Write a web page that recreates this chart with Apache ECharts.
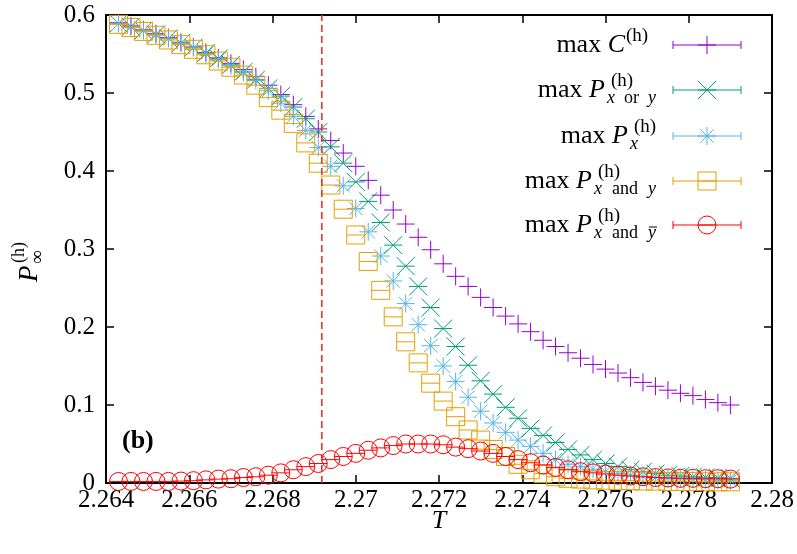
<!DOCTYPE html>
<html>
<head>
<meta charset="utf-8">
<script src="https://cdn.jsdelivr.net/npm/echarts@6/dist/echarts.min.js"></script>
<style>
html,body{margin:0;padding:0;background:#fff;}
#chart{width:797px;height:554px;}
</style>
</head>
<body>
<div id="chart"></div>
<script>
// temperatures T
var temps = [2.2643,2.2646,2.2649,2.2652,2.2655,2.2658,2.2661,2.2664,2.2667,2.2670,
	2.2673,2.2676,2.2679,2.2682,2.2685,2.2688,2.2691,2.2694,2.2697,2.2700,
	2.2703,2.2706,2.2709,2.2712,2.2715,2.2718,2.2721,2.2724,2.2727,2.2730,
	2.2733,2.2736,2.2739,2.2742,2.2745,2.2748,2.2751,2.2754,2.2757,2.2760,
	2.2763,2.2766,2.2769,2.2772,2.2775,2.2778,2.2781,2.2784,2.2787,2.2790];

var maxC = [0.590,0.586,0.581,0.576,0.571,0.565,0.559,0.552,0.545,0.538,
	0.530,0.521,0.510,0.498,0.485,0.470,0.454,0.439,0.423,0.406,
	0.388,0.369,0.350,0.332,0.315,0.299,0.281,0.265,0.252,0.238,
	0.225,0.214,0.204,0.194,0.183,0.175,0.167,0.160,0.152,0.146,
	0.141,0.135,0.129,0.124,0.119,0.115,0.112,0.107,0.103,0.100];

var maxPor = [0.589,0.585,0.580,0.575,0.570,0.564,0.558,0.551,0.544,0.536,
	0.527,0.517,0.506,0.496,0.482,0.467,0.450,0.431,0.410,0.386,
	0.361,0.334,0.305,0.278,0.252,0.225,0.198,0.175,0.151,0.131,
	0.114,0.097,0.083,0.070,0.061,0.052,0.043,0.036,0.030,0.025,
	0.021,0.017,0.0145,0.012,0.010,0.009,0.008,0.0073,0.0068,0.006];

var maxPx = [0.589,0.585,0.580,0.575,0.570,0.564,0.558,0.550,0.543,0.535,
	0.526,0.516,0.503,0.487,0.470,0.452,0.430,0.406,0.381,0.352,
	0.322,0.291,0.259,0.230,0.203,0.176,0.150,0.130,0.110,0.092,
	0.077,0.065,0.055,0.047,0.038,0.030,0.024,0.021,0.0176,0.0145,
	0.012,0.010,0.008,0.007,0.006,0.005,0.0045,0.004,0.0035,0.003];

var maxPand = [0.588,0.584,0.579,0.574,0.568,0.562,0.556,0.549,0.541,0.533,
	0.523,0.510,0.494,0.478,0.461,0.436,0.410,0.382,0.351,0.318,
	0.284,0.247,0.213,0.181,0.154,0.128,0.105,0.085,0.068,0.055,
	0.043,0.034,0.024,0.017,0.012,0.008,0.006,0.005,0.004,0.0035,
	0.003,0.003,0.0025,0.0025,0.002,0.002,0.002,0.0015,0.0015,0.0015];

var maxPandNot = [0.002,0.002,0.002,0.002,0.002,0.0025,0.003,0.004,0.005,0.0055,
	0.007,0.008,0.010,0.013,0.017,0.021,0.025,0.030,0.034,0.038,
	0.042,0.045,0.048,0.050,0.050,0.050,0.049,0.046,0.044,0.041,
	0.038,0.034,0.030,0.026,0.023,0.020,0.017,0.0145,0.013,0.0115,
	0.010,0.009,0.008,0.007,0.0065,0.006,0.006,0.0055,0.0055,0.005];

var Tc = 2.269185;
var xTicks = [2.264, 2.28, 0.002];
var yTicks = [0, 0.6, 0.1];

var serif = '"Liberation Serif", "DejaVu Serif", serif';

// marker shapes, drawn around pixel point (x,y)
function markerShapes(kind, x, y, color, s) {
	var st = {stroke: color, lineWidth: 1, fill: null};
	var out = [];
	function ln(x1, y1, x2, y2) {
		out.push({type: 'line', shape: {x1: x1, y1: y1, x2: x2, y2: y2}, style: st});
	}
	ln(x - s, y, x + s, y);
	if (kind == 'plus' || kind == 'star') {
		ln(x, y - s, x, y + s);
	}
	if (kind == 'cross' || kind == 'star') {
		var d = kind == 'star' ? s * 0.75 : s;
		ln(x - d, y - d, x + d, y + d);
		ln(x - d, y + d, x + d, y - d);
	}
	if (kind == 'square') {
		out.push({type: 'rect', shape: {x: x - s, y: y - s, width: 2 * s, height: 2 * s}, style: st});
	}
	if (kind == 'circle') {
		out.push({type: 'circle', shape: {cx: x, cy: y, r: s}, style: st});
	}
	return out;
}

function pairs(ys) {
	var d = [];
	for (var i = 0; i < temps.length; i++) d.push([temps[i], ys[i]]);
	return d;
}

var sets = [
	{name: 'C', data: maxC, kind: 'plus', color: '#9400d3'},
	{name: 'or', data: maxPor, kind: 'cross', color: '#009e73'},
	{name: 'x', data: maxPx, kind: 'star', color: '#56b4e9'},
	{name: 'and', data: maxPand, kind: 'square', color: '#e69f00'},
	{name: 'andnot', data: maxPandNot, kind: 'circle', color: '#ff0000'}
];

var seriesval = [];
// critical temperature, dashed
seriesval.push({
	type: 'line',
	data: [[Tc, yTicks[0]], [Tc, yTicks[1]]],
	symbol: 'none',
	silent: true,
	lineStyle: {color: '#e8352a', width: 1.6, type: [7, 4]}
});
for (var k = 0; k < sets.length; k++) {
	(function(set){
		seriesval.push({
			type: 'custom',
			name: set.name,
			data: pairs(set.data),
			encode: {x: 0, y: 1},
			renderItem: function (params, api) {
				var p = api.coord([api.value(0), api.value(1)]);
				return {type: 'group', children: markerShapes(set.kind, p[0], p[1], set.color, 9)};
			}
		});
	})(sets[k]);
}

// legend drawn by hand
var legendRows = [
	{y: 45, right: 625, main: 'C', sub: null},
	{y: 90, right: 605, main: 'P', sub: '{i|x}{r|or}{i|y}'},
	{y: 136, right: 628, main: 'P', sub: '{i|x}'},
	{y: 181, right: 592, main: 'P', sub: '{i|x}{a|and}{i|y}'},
	{y: 225, right: 592, main: 'P', sub: '{i|x}{a|and}{i|y}'}
];
var graphics = [];
for (var r = 0; r < legendRows.length; r++) {
	var row = legendRows[r];
	var set = sets[r];
	var st = {stroke: set.color, lineWidth: 1};
	graphics.push({type: 'line', shape: {x1: 673, y1: row.y, x2: 741, y2: row.y}, style: st});
	graphics.push({type: 'line', shape: {x1: 673, y1: row.y - 4, x2: 673, y2: row.y + 4}, style: st});
	graphics.push({type: 'line', shape: {x1: 741, y1: row.y - 4, x2: 741, y2: row.y + 4}, style: st});
	var ms = markerShapes(set.kind, 707, row.y, set.color, 9);
	for (var m = 0; m < ms.length; m++) graphics.push(ms[m]);

	graphics.push({type: 'text', x: row.right, y: row.y, style: {
		text: '{m|max }{v|' + row.main + '}', align: 'right', verticalAlign: 'middle',
		rich: {
			m: {fontFamily: serif, fontSize: 26, fill: '#000'},
			v: {fontFamily: serif, fontStyle: 'italic', fontSize: 26, fill: '#000'}
		}
	}});
	graphics.push({type: 'text', x: row.right + (row.main == 'P' ? 6 : 1), y: row.y - 9, style: {
		text: '(h)', align: 'left', verticalAlign: 'middle',
		font: '19px ' + serif, fill: '#000'}});
	if (row.sub) {
		graphics.push({type: 'text', x: row.right + 2, y: row.y + 8, style: {
			text: row.sub, align: 'left', verticalAlign: 'middle',
			rich: {
				i: {fontFamily: serif, fontStyle: 'italic', fontSize: 18, fill: '#000'},
				r: {fontFamily: serif, fontSize: 18, fill: '#000', padding: [0, 9]},
				a: {fontFamily: serif, fontSize: 18, fill: '#000', padding: [0, 10]}
			}
		}});
	}
	if (r == 4) {
		// bar over y
		graphics.push({type: 'line', shape: {x1: 649, y1: row.y + 2, x2: 657, y2: row.y + 2}, style: {stroke: '#000', lineWidth: 1}});
	}
}
// panel tag
graphics.push({type: 'text', x: 122, y: 441, style: {text: '(b)', align: 'left', verticalAlign: 'middle',
	font: 'bold 26px ' + serif, fill: '#000'}});
// y axis title
graphics.push({type: 'group', x: 30, y: 264, rotation: Math.PI / 2, children: [
	{type: 'text', x: -18, y: 0, style: {text: 'P', align: 'left', verticalAlign: 'middle', font: 'italic 27px ' + serif, fill: '#000'}},
	{type: 'text', x: 0, y: 8, style: {text: '∞', align: 'left', verticalAlign: 'middle', font: '19px ' + serif, fill: '#000'}},
	{type: 'text', x: 1, y: -11, style: {text: '(h)', align: 'left', verticalAlign: 'middle', font: '18px ' + serif, fill: '#000'}}
]});

function axisX(pos, labels) {
	return {
		type: 'value', position: pos, min: xTicks[0], max: xTicks[1], interval: xTicks[2],
		axisLine: {show: true, onZero: false, lineStyle: {color: '#000', width: 2}},
		axisTick: {show: true, inside: true, length: 8, lineStyle: {color: '#000', width: 1.5}},
		splitLine: {show: false},
		axisLabel: {show: labels, color: '#000', fontFamily: serif, fontSize: 25, margin: 5,
			formatter: function (v) { return String(+v.toFixed(3)); }},
		name: labels ? 'T' : '', nameLocation: 'middle', nameGap: 25, nameMoveOverlap: false,
		nameTextStyle: {color: '#000', fontFamily: serif, fontStyle: 'italic', fontSize: 26}
	};
}
function axisY(pos, labels) {
	return {
		type: 'value', position: pos, min: yTicks[0], max: yTicks[1], interval: yTicks[2],
		axisLine: {show: true, onZero: false, lineStyle: {color: '#000', width: 2}},
		axisTick: {show: true, inside: true, length: 8, lineStyle: {color: '#000', width: 1.5}},
		splitLine: {show: false},
		axisLabel: {show: labels, color: '#000', fontFamily: serif, fontSize: 25, margin: 11,
			formatter: function (v) { return String(+v.toFixed(1)); }}
	};
}

var myCharts = echarts.init(document.getElementById('chart'));
var option = {
	backgroundColor: '#fff',
	animation: false,
	grid: {left: 106, right: 25, top: 15, bottom: 71},
	xAxis: [axisX('bottom', true), axisX('top', false)],
	yAxis: [axisY('left', true), axisY('right', false)],
	series: seriesval,
	graphic: graphics
};
myCharts.setOption(option, true);
</script>
</body>
</html>
